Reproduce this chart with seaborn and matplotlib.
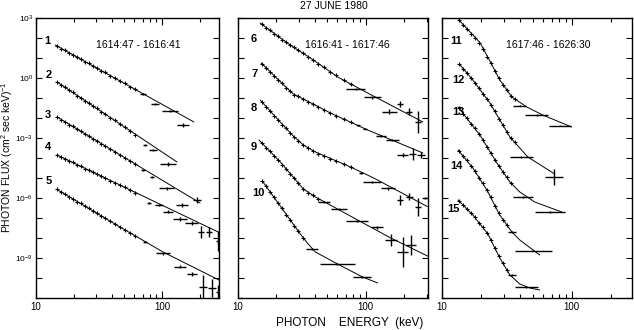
import numpy as np
import pandas as pd
import matplotlib
matplotlib.use("Agg")
import matplotlib.pyplot as plt
from matplotlib.ticker import FixedLocator, FixedFormatter, NullFormatter
import seaborn as sns

# ---------------- data ----------------
# energy channels (keV) of the dense small data points, one list per panel
E_ch1 = [14.7, 15.8, 17.0, 18.3, 19.7, 21.2, 22.8, 24.5, 26.3, 28.3, 30.5, 32.8, 35.3, 38.7, 42.4, 46.4, 50.8, 55.7, 61.0]
E_ch2 = [15.45, 16.6, 17.86, 19.2, 20.65, 22.2, 23.9, 25.7, 27.6, 29.7, 32.5, 35.6, 38.95, 42.65, 47.55, 53.0, 59.1, 67.1, 76.2]
E_ch3 = [13.5, 14.5, 15.6, 16.7, 17.9, 19.3, 20.7, 22.2, 23.8, 25.6, 27.4, 29.5, 31.6, 34.0, 36.4]

# log10 photon flux of the small points (spectra offset as plotted)
s1_logF = [1.60, 1.47, 1.39, 1.25, 1.17, 1.03, 0.95, 0.81, 0.73, 0.59, 0.51, 0.37, 0.29, 0.12, 0.02, -0.15, -0.26, -0.43, -0.56]
s2_logF = [-0.18, -0.35, -0.45, -0.62, -0.72, -0.88, -0.98, -1.15, -1.25, -1.42, -1.52, -1.68, -1.79, -1.98, -2.12, -2.31, -2.45, -2.65, -2.83]
s3_logF = [-1.93, -2.09, -2.18, -2.33, -2.42, -2.57, -2.66, -2.81, -2.90, -3.05, -3.14, -3.29, -3.38, -3.56, -3.68, -3.86, -3.98, -4.16, -4.28]
s4_logF = [-3.83, -3.96, -4.03, -4.15, -4.22, -4.34, -4.41, -4.53, -4.60, -4.72, -4.79, -4.92, -4.99, -5.13, -5.23, -5.37, -5.46, -5.61, -5.74]
s5_logF = [-5.55, -5.70, -5.80, -5.95, -6.04, -6.18, -6.27, -6.42, -6.51, -6.66, -6.75, -6.90, -6.99, -7.17, -7.29, -7.47, -7.58, -7.76, -7.90]
s6_logF = [2.68, 2.52, 2.39, 2.22, 2.09, 1.92, 1.79, 1.64, 1.53, 1.38, 1.24, 1.05, 0.91, 0.72, 0.53, 0.31, 0.13, -0.12, -0.29]
s7_logF = [0.71, 0.49, 0.32, 0.10, -0.10, -0.27, -0.49, -0.65, -0.84, -0.92, -1.06, -1.19, -1.30, -1.45, -1.58, -1.76, -1.88, -2.06, -2.20]
s8_logF = [-1.19, -1.45, -1.64, -1.89, -2.08, -2.33, -2.51, -2.76, -2.93, -3.14, -3.34, -3.51, -3.63, -3.78, -3.88, -4.04, -4.14, -4.32, -4.44]
s9_logF = [-3.24, -3.48, -3.66, -3.90, -4.08, -4.33, -4.53, -4.80, -5.00, -5.27, -5.53, -5.73, -5.87, -6.05]
s10_logF = [-5.17, -5.40, -5.71, -5.96, -6.27, -6.52, -6.83, -7.08, -7.40, -7.65, -8.00]
s11_logF = [2.90, 2.66, 2.46, 2.21, 2.01, 1.77, 1.47, 1.07, 0.74, 0.34, 0.00, -0.33, -0.59, -0.90, -1.06]
s12_logF = [0.72, 0.46, 0.26, 0.00, -0.24, -0.50, -0.80, -1.05, -1.36, -1.67, -2.04, -2.34, -2.70, -2.99, -3.22]
s13_logF = [-1.50, -1.79, -2.01, -2.29, -2.52, -2.80, -3.08, -3.44, -3.74, -4.10, -4.38, -4.71, -4.97, -5.25]
s14_logF = [-3.64, -3.91, -4.12, -4.40, -4.64, -4.99, -5.27, -5.62, -5.97, -6.39, -6.74, -7.08, -7.33]
s15_logF = [-6.13, -6.36, -6.53, -6.77, -6.96, -7.25, -7.47, -7.75, -8.08, -8.52, -8.88, -9.27, -9.58]

# wide-bin points: (E low keV, E high keV, log10 flux, log10 error)
s1_bins = [(66.8, 74.6, -0.80, 0.05), (81.7, 94.6, -1.30, 0.06), (100.0, 134.0, -1.65, 0.07), (131.5, 164.0, -2.35, 0.10)]
s2_bins = [(70.6, 76.1, -3.35, 0.05), (78.8, 91.4, -3.60, 0.06), (96.6, 129.0, -4.30, 0.08)]
s3_bins = [(68.5, 73.8, -4.60, 0.05), (80.0, 85.9, -4.935, 0.05), (94.8, 125.0, -5.515, 0.08), (128.2, 160.0, -6.35, 0.10), (175.0, 203.0, -6.10, 0.15)]
s4_bins = [(76.4, 82.3, -6.235, 0.05), (88.4, 102.5, -6.35, 0.06), (102.3, 123.0, -6.685, 0.07), (122.2, 158.0, -7.05, 0.08),
           (152.3, 194.4, -7.265, 0.10), (193.0, 215.6, -7.685, 0.29), (224.6, 250.8, -7.685, 0.25), (269.7, 290.2, -8.135, 0.50)]
s5_bins = [(70.6, 76.1, -8.175, 0.05), (90.1, 116.4, -8.765, 0.07), (124.5, 155.2, -9.435, 0.08), (157.0, 188.6, -9.80, 0.10),
           (197.6, 229.0, -10.435, 0.60), (230.3, 267.0, -10.515, 0.45), (268.0, 284.0, -10.685, 0.35)]
s6_bins = [(70.8, 98.2, -0.565, 0.05), (96.8, 131.7, -0.965, 0.06), (133.2, 174.8, -1.685, 0.13), (176.2, 196.8, -1.315, 0.15),
           (207.5, 231.7, -1.685, 0.17), (241.5, 269.8, -2.185, 0.55)]
s7_bins = [(83.3, 89.8, -2.37, 0.04), (94.6, 102.0, -2.53, 0.04), (119.7, 143.8, -2.90, 0.05), (145.6, 180.9, -3.10, 0.06),
           (177.4, 213.3, -3.85, 0.10), (220.6, 246.4, -3.80, 0.30), (252.3, 291.1, -3.85, 0.15)]
s8_bins = [(88.0, 94.7, -4.735, 0.04), (95.8, 133.0, -5.185, 0.05), (132.5, 169.3, -5.515, 0.06), (176.2, 196.8, -6.10, 0.25),
           (206.5, 232.9, -5.935, 0.17), (241.5, 269.8, -6.435, 0.45), (282.7, 300.3, -6.015, 0.05)]
s9_bins = [(42.2, 52.3, -6.185, 0.04), (53.3, 71.2, -6.565, 0.05), (70.4, 105.1, -7.135, 0.05), (110.9, 137.7, -7.465, 0.06),
           (141.1, 175.3, -8.10, 0.30), (177.4, 213.3, -8.685, 0.75), (206.2, 247.9, -8.35, 0.50)]
s10_bins = [(34.1, 42.3, -8.55, 0.05), (43.6, 82.2, -9.30, 0.05), (80.1, 110.8, -9.965, 0.05)]
s11_bins = [(35.5, 44.7, -1.375, 0.04), (43.9, 65.9, -1.85, 0.04), (66.5, 98.4, -2.375, 0.04)]
s12_bins = [(33.7, 49.9, -3.935, 0.04), (62.2, 85.9, -4.935, 0.40)]
s13_bins = [(35.4, 50.4, -5.935, 0.04), (52.0, 88.1, -6.685, 0.04)]
s14_bins = [(32.2, 37.1, -7.685, 0.04), (36.4, 70.2, -8.625, 0.04)]
s15_bins = [(32.2, 37.1, -9.85, 0.04), (36.4, 54.8, -10.465, 0.04)]

# fitted model curves: energy (keV) and log10 flux at the curve's knots
s1_fitE = [14.2, 179.0];  s1_fitL = [1.65, -2.2]
s2_fitE = [14.7, 131.5];  s2_fitL = [-0.2, -4.2]
s3_fitE = [14.7, 200.3];  s3_fitL = [-1.95, -6.25]
s4_fitE = [14.7, 283.0];  s4_fitL = [-3.85, -7.72]
s5_fitE = [14.9, 46.4, 101.8, 283.0];  s5_fitL = [-5.6, -7.45, -8.7, -10.1]
s6_fitE = [14.9, 24.3, 36.9, 61.3, 103.7, 281.1];  s6_fitL = [2.75, 1.75, 1.0, 0.025, -0.75, -2.2]
s7_fitE = [15.2, 23.9, 27.1, 30.8, 53.0, 103.7, 281.1];  s7_fitL = [0.75, -0.475, -0.8, -0.975, -1.75, -2.6, -3.75]
s8_fitE = [14.9, 21.4, 27.1, 32.5, 40.4, 76.2, 115.6, 305.0];  s8_fitL = [-1.1, -2.2, -2.9, -3.35, -3.7, -4.45, -5.0, -6.43]
s9_fitE = [14.6, 21.8, 32.5, 40.4, 60.2, 86.5, 157.3, 305.0];  s9_fitL = [-3.1, -4.25, -5.55, -5.95, -6.55, -7.1, -8.0, -8.9]
s10_fitE = [15.7, 30.8, 34.9, 40.4, 60.2, 94.7, 124.3];  s10_fitL = [-5.2, -7.8, -8.25, -8.7, -9.3, -9.95, -10.25]
s11_fitE = [13.5, 19.6, 23.4, 27.9, 34.6, 45.1, 59.8, 100.0];  s11_fitL = [2.9, 1.775, 0.85, -0.1, -0.95, -1.45, -1.85, -2.45]
s12_fitE = [13.8, 17.3, 23.4, 33.4, 39.8, 45.9, 74.0];  s12_fitL = [0.65, -0.1, -1.25, -2.95, -3.5, -3.95, -4.8]
s13_fitE = [13.3, 19.6, 26.5, 33.4, 39.8, 51.9, 83.8];  s13_fitL = [-1.45, -2.85, -4.25, -5.2, -5.7, -6.2, -6.7]
s14_fitE = [13.3, 17.3, 22.2, 27.9, 34.6, 39.8, 56.7];  s14_fitL = [-3.6, -4.5, -5.6, -6.85, -7.7, -8.1, -8.85]
s15_fitE = [13.3, 17.3, 22.6, 27.9, 33.4, 39.8, 47.5, 56.7];  s15_fitL = [-6.1, -6.85, -7.8, -9.0, -9.85, -10.3, -10.5, -10.6]

spectrum_labels = ["1", "2", "3", "4", "5", "6", "7", "8", "9", "10", "11", "12", "13", "14", "15"]
interval_labels = ["1614:47 - 1616:41", "1616:41 - 1617:46", "1617:46 - 1626:30"]
title_text = "27 JUNE 1980"
xtick_vals = [10, 100]
xtick_labels = ["10", "100"]
ytick_vals = [1e-9, 1e-6, 1e-3, 1e0, 1e3]
ytick_labels = [r"$10^{-9}$", r"$10^{-6}$", r"$10^{-3}$", r"$10^{0}$", r"$10^{3}$"]

# ---------------- assembly ----------------
spectra = [
    (0, E_ch1, s1_logF, s1_bins, s1_fitE, s1_fitL),
    (0, E_ch1, s2_logF, s2_bins, s2_fitE, s2_fitL),
    (0, E_ch1, s3_logF, s3_bins, s3_fitE, s3_fitL),
    (0, E_ch1, s4_logF, s4_bins, s4_fitE, s4_fitL),
    (0, E_ch1, s5_logF, s5_bins, s5_fitE, s5_fitL),
    (1, E_ch2, s6_logF, s6_bins, s6_fitE, s6_fitL),
    (1, E_ch2, s7_logF, s7_bins, s7_fitE, s7_fitL),
    (1, E_ch2, s8_logF, s8_bins, s8_fitE, s8_fitL),
    (1, E_ch2, s9_logF, s9_bins, s9_fitE, s9_fitL),
    (1, E_ch2, s10_logF, s10_bins, s10_fitE, s10_fitL),
    (2, E_ch3, s11_logF, s11_bins, s11_fitE, s11_fitL),
    (2, E_ch3, s12_logF, s12_bins, s12_fitE, s12_fitL),
    (2, E_ch3, s13_logF, s13_bins, s13_fitE, s13_fitL),
    (2, E_ch3, s14_logF, s14_bins, s14_fitE, s14_fitL),
    (2, E_ch3, s15_logF, s15_bins, s15_fitE, s15_fitL),
]

# ---------------- layout / style ----------------
sns.set_theme(style="ticks")
plt.rcParams['font.family'] = ['Liberation Sans', 'DejaVu Sans']
plt.rcParams['mathtext.fontset'] = 'custom'
plt.rcParams['mathtext.rm'] = 'Liberation Sans'
plt.rcParams['mathtext.it'] = 'Liberation Sans:italic'
plt.rcParams['mathtext.bf'] = 'Liberation Sans:bold'

W, H = 634, 330
fig = plt.figure(figsize=(W / 100, H / 100), dpi=100)
fig.patch.set_facecolor("white")

panel_px = [(36, 183), (238, 190), (442, 190)]   # left, width in pixels
panel_top, panel_bot = 18, 298
panel_xmax = [283.0, 308.0, 292.0]
axes = []
for (lft, wid) in panel_px:
    ax = fig.add_axes([lft / W, 1 - panel_bot / H, wid / W, (panel_bot - panel_top) / H])
    ax.set_xscale("log")
    ax.set_yscale("log")
    axes.append(ax)

label_pos = [(0.064, 0.919), (0.071, 0.796), (0.064, 0.654), (0.067, 0.540), (0.067, 0.419),
             (0.081, 0.924), (0.089, 0.800), (0.081, 0.677), (0.081, 0.540), (0.107, 0.374),
             (0.072, 0.919), (0.086, 0.779), (0.086, 0.665), (0.077, 0.471), (0.059, 0.317)]

ink = "black"
for k, (pi, ch, lf, bins, fe, fl) in enumerate(spectra):
    ax = axes[pi]
    df_fit = pd.DataFrame({"E": fe, "F": np.power(10.0, fl)})
    sns.lineplot(data=df_fit, x="E", y="F", ax=ax, color=ink, linewidth=0.7,
                 sort=False, estimator=None)
    df_pts = pd.DataFrame({"E": ch[:len(lf)], "F": np.power(10.0, lf)})
    sns.scatterplot(data=df_pts, x="E", y="F", ax=ax, marker="+", s=11,
                    color=ink, linewidth=0.8)
    for lo, hi, l, d in bins:
        c = np.sqrt(lo * hi)
        f = 10.0 ** l
        ax.errorbar([c], [f], xerr=[[c - lo], [hi - c]],
                    yerr=[[f - 10.0 ** (l - d)], [10.0 ** (l + d) - f]],
                    fmt="none", ecolor=ink, elinewidth=1.0, capsize=0)
    lx, ly = label_pos[k]
    ax.text(lx, ly, spectrum_labels[k], transform=ax.transAxes, ha="center", va="center",
            fontsize=8, fontweight="bold", color=ink)

for i, ax in enumerate(axes):
    ax.set_xlim(10, panel_xmax[i])
    ax.set_ylim(1e-11, 1e3)
    ax.set_xlabel("")
    ax.set_ylabel("")
    ax.xaxis.set_major_locator(FixedLocator(xtick_vals))
    ax.xaxis.set_major_formatter(FixedFormatter(xtick_labels))
    ax.xaxis.set_minor_locator(FixedLocator([20, 30, 40, 50, 60, 70, 80, 90, 200, 300]))
    ax.xaxis.set_minor_formatter(NullFormatter())
    ax.yaxis.set_major_locator(FixedLocator(ytick_vals))
    ax.yaxis.set_minor_locator(FixedLocator([10.0 ** e for e in range(-11, 4)]))
    ax.yaxis.set_minor_formatter(NullFormatter())
    if i == 0:
        ax.yaxis.set_major_formatter(FixedFormatter(ytick_labels))
    else:
        ax.yaxis.set_major_formatter(NullFormatter())
    ax.tick_params(which="both", direction="in", top=True, right=True, width=0.8,
                   colors=ink, labelsize=7, pad=3)
    ax.tick_params(axis="y", which="both", length=4, labelsize=6, pad=2)
    ax.tick_params(axis="x", which="major", length=5)
    ax.tick_params(axis="x", which="minor", length=3)
    for sp in ax.spines.values():
        sp.set_linewidth(1.0)
        sp.set_color(ink)
    ax.set_facecolor("white")

interval_px = [(138, 45), (347, 45), (548, 45)]
for (px, py), txt in zip(interval_px, interval_labels):
    fig.text(px / W, 1 - py / H, txt, ha="center", va="center", fontsize=7.5, color=ink)

fig.text(334 / W, 1 - 6 / H, title_text, ha="center", va="center", fontsize=7.5, color=ink)
fig.text(350 / W, 1 - 323 / H, "PHOTON    ENERGY  (keV)", ha="center", va="center",
         fontsize=8.5, color=ink)
fig.text(7 / W, 1 - 157 / H, "PHOTON FLUX (cm$^2$ sec keV)$^{-1}$", rotation=90,
         ha="center", va="center", fontsize=7.5, color=ink)

fig.savefig("out.png", dpi=100, facecolor="white")
